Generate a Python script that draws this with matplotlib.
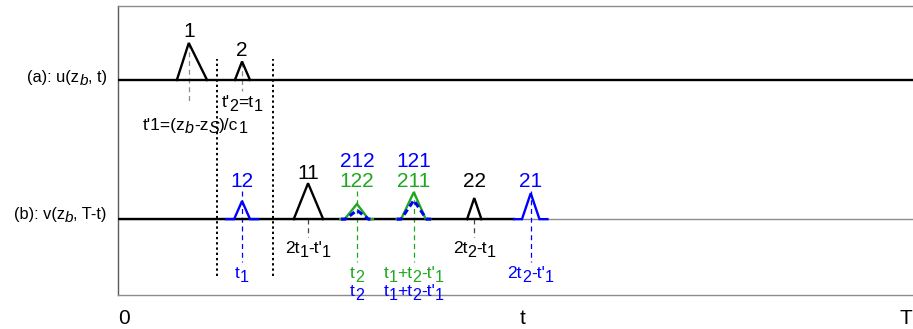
import matplotlib
matplotlib.use("Agg")
import matplotlib.pyplot as plt
from matplotlib.transforms import Affine2D

plt.rcParams['font.family'] = ['Liberation Sans', 'DejaVu Sans']

# ---------------------------------------------------------------- data
# time axis labels
tick_pos = [0.7, 50.9, 99.1]
tick_text = ['0', 't', 'T']

# source trace u(z_b, t): triangular arrivals
u_start = [7.4, 14.7]
u_peak = [8.9, 15.6]
u_end = [11.2, 16.6]
u_amp = [1.0, 0.5]
u_names = ['1', '2']
u_notes = ["t'1=(z_b-z_S)/c_1", "t'_2=t_1"]

# dotted time window
window_t = [12.45, 19.5]

# back-propagated trace v(z_b, T-t): arrivals
v_names = ['12', '11', '212', '122', '121', '211', '22', '21']
v_start = [14.6, 22.1, 28.6, 28.5, 35.6, 35.6, 43.9, 50.8]
v_peak = [15.6, 23.9, 30.05, 30.05, 37.2, 37.2, 44.8, 51.9]
v_end = [16.6, 25.8, 31.5, 31.5, 38.8, 38.7, 45.7, 53.0]
v_amp = [0.49, 0.97, 0.24, 0.41, 0.51, 0.73, 0.57, 0.70]
v_notes = ["t_1", "2t_1-t'_1", "t_2", "t_2",
           "t_1+t_2-t'_1", "t_1+t_2-t'_1",
           "2t_2-t_1", "2t_2-t'_1"]

# ---------------------------------------------------------------- styling
BLUE = '#0000ff'
GREEN = '#1fa81f'
GRAY = '#8c8c8c'
v_style = {
    '12': (BLUE, '-', 0), '11': ('black', '-', 0),
    '212': (BLUE, '--', 1), '122': (GREEN, '-', 0),
    '121': (BLUE, '--', 1), '211': (GREEN, '-', 0),
    '22': ('black', '-', 0), '21': (BLUE, '-', 0),
}
U_BASE = 5.81
V_BASE = 2.05
V_LABEL_ROWS = [3.12, 3.66]
V_NOTE_ROWS = [0.62, 0.14]
BLACK_NOTE_Y = 1.30
PEAK_FS = 15
NOTE_FS = 12.5

fig = plt.figure(figsize=(9.13, 3.29), dpi=100)
ax = fig.add_axes([118 / 913, 34 / 329, 800 / 913, 289 / 329])
ax.set_xlim(0, 100.6)
ax.set_ylim(0, 7.81)
ax.set_xticks([])
ax.set_yticks([])
ax.spines['right'].set_visible(False)
ax.spines['left'].set_color('#5a5a5a')
ax.spines['top'].set_color(GRAY)
ax.spines['bottom'].set_color(GRAY)
for s in ('left', 'top', 'bottom'):
    ax.spines[s].set_linewidth(1.0)

renderer = fig.canvas.get_renderer()


def rich_text(x, y, s, size, color='black', ha='center'):
    """Draw s with '_c' subscripts (letters italic), centred on y."""
    runs, buf, i = [], '', 0
    while i < len(s):
        if s[i] == '_' and i + 1 < len(s):
            if buf:
                runs.append((buf, False))
                buf = ''
            runs.append((s[i + 1], True))
            i += 2
        else:
            buf += s[i]
            i += 1
    if buf:
        runs.append((buf, False))

    px = size * fig.dpi / 72.0
    items = []
    for txt, sub in runs:
        style = 'italic' if (sub and txt.isalpha()) else 'normal'
        t = ax.text(x, y, txt, fontsize=size * (0.93 if sub else 1.0),
                    color=color, style=style, ha='left', va='baseline',
                    clip_on=False)
        w = t.get_window_extent(renderer).width
        items.append((t, sub, w))
    total = sum(w for _, _, w in items)
    dx = {'center': -total / 2, 'right': -total, 'left': 0}[ha]
    base_dy = -0.36 * px
    for t, sub, w in items:
        dy = base_dy - (0.2 * px if sub else 0.0)
        t.set_transform(ax.transData + Affine2D().translate(dx, dy))
        dx += w


# ---- trace (a)
ax.plot([0, 100.6], [U_BASE, U_BASE], color='black', lw=1.7, zorder=3,
        solid_capstyle='butt')
u_note_x = [u_peak[0] + 0.8, u_peak[1]]
u_note_y = [4.64, 5.24]
u_dash_low = [5.22, 5.52]
for i in range(len(u_names)):
    ax.plot([u_start[i], u_peak[i], u_end[i]],
            [U_BASE, U_BASE + u_amp[i], U_BASE],
            color='black', lw=1.7, zorder=3, solid_joinstyle='miter')
    ax.plot([u_peak[i], u_peak[i]], [U_BASE + u_amp[i], u_dash_low[i]],
            color=GRAY, lw=0.9, ls=(0, (4, 3)), zorder=2)
    rich_text(u_peak[i], U_BASE + u_amp[i] + 0.36, u_names[i], PEAK_FS)
    rich_text(u_note_x[i], u_note_y[i], u_notes[i], NOTE_FS)

for t in window_t:
    ax.plot([t, t], [0.51, 6.38], color='black', lw=1.4,
            ls=(0, (1.2, 1.5)), zorder=4)

# ---- trace (b)
ax.plot([0, 100.6], [V_BASE, V_BASE], color=GRAY, lw=1.0, zorder=1)
ax.plot([0, v_start[-1] - 0.9], [V_BASE, V_BASE], color='black', lw=1.7,
        zorder=3, solid_capstyle='butt')
for i, name in enumerate(v_names):
    color, ls, row = v_style[name]
    if color == 'black':
        pad = 0.0
    elif color == BLUE and ls == '-':
        pad = 1.0
    else:
        pad = 0.55
    xs = [v_start[i] - pad, v_start[i], v_peak[i], v_end[i], v_end[i] + pad]
    ys = [V_BASE, V_BASE, V_BASE + v_amp[i], V_BASE, V_BASE]
    if ls == '--':
        ax.plot(xs, ys, color=color, lw=2.2, ls=(0, (2.0, 1.2)), zorder=5)
    else:
        ax.plot(xs, ys, color=color, lw=1.7,
                zorder=4 if color != 'black' else 3, solid_joinstyle='miter')

    label_y = max(V_BASE + v_amp[i] + 0.33, V_LABEL_ROWS[row])
    rich_text(v_peak[i], label_y, name, PEAK_FS, color=color)

    if color == 'black':
        ax.plot([v_peak[i], v_peak[i]], [V_BASE, BLACK_NOTE_Y + 0.27],
                color='#444444', lw=0.9, ls=(0, (4, 3)), zorder=2)
        rich_text(v_peak[i], BLACK_NOTE_Y, v_notes[i], NOTE_FS)
    else:
        if row == 0:
            ax.plot([v_peak[i], v_peak[i]],
                    [label_y - 0.3, V_NOTE_ROWS[0] + 0.27],
                    color=color, lw=0.9, ls=(0, (4, 3)), zorder=2)
        rich_text(v_peak[i], V_NOTE_ROWS[row], v_notes[i], NOTE_FS,
                  color=color)

# ---- side labels and time labels
rich_text(-1.4, U_BASE + 0.1, "(a): u(z_b, t)", 11.8, ha='right')
rich_text(-1.4, V_BASE + 0.16, "(b): v(z_b, T-t)", 11.8, ha='right')
for x, s in zip(tick_pos, tick_text):
    rich_text(x, -0.58, s, 15)

fig.savefig('out.png', dpi=100)
